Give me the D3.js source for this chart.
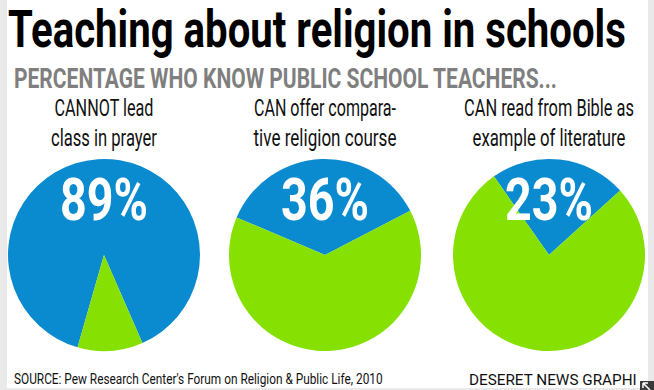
<!DOCTYPE html>
<html>
<head>
<meta charset="utf-8">
<script src="https://cdn.jsdelivr.net/npm/d3@7"></script>
<style>
  html, body { margin: 0; padding: 0; background: #fff; }
  svg { display: block; }
</style>
</head>
<body>
<div id="chart"></div>
<script>
const questions = [
  ['CANNOT lead', 'class in prayer'],
  ['CAN offer compara-', 'tive religion course'],
  ['CAN read from Bible as', 'example of literature']
];
const percents = [89, 36, 23];

// layout
const W = 654, H = 390;
const BLUE = '#0a8bcf', GREEN = '#86e102';
const centersX = [104, 325, 549];
const centerY = 255;
const radius = 96;
const startDeg = [196, -67, -35];         // where the blue slice starts
const labelWidths = [[99, 106], [142, 143], [170, 153]];
const pctWidth = 88;
const condensed = "'Liberation Sans Narrow', 'Roboto', 'Liberation Sans', sans-serif";

const svg = d3.select('#chart').append('svg').attr('width', W).attr('height', H);

svg.append('rect').attr('width', W).attr('height', H).attr('fill', '#fff');
svg.append('rect').attr('x', 0).attr('y', 0).attr('width', 7).attr('height', H).attr('fill', '#e9e9e9');
svg.append('rect').attr('x', 648).attr('y', 0).attr('width', 6).attr('height', H).attr('fill', '#e9e9e9');
svg.append('rect').attr('x', 0).attr('y', 388).attr('width', W).attr('height', 2).attr('fill', '#e9e9e9');

// squeeze a text horizontally to a given width (condensed look)
function fit(sel, w) {
  const x = +sel.attr('x'), y = +sel.attr('y');
  const len = sel.node().getComputedTextLength();
  sel.attr('x', 0).attr('y', 0)
    .attr('transform', `translate(${x},${y}) scale(${w / len},1)`);
  return sel;
}

fit(svg.append('text').attr('x', 8).attr('y', 47)
  .attr('font-family', condensed).attr('font-weight', 700).attr('font-size', 52)
  .attr('fill', '#000').text('Teaching about religion in schools'), 618);

fit(svg.append('text').attr('x', 14).attr('y', 88)
  .attr('font-family', condensed).attr('font-weight', 700).attr('font-size', 27)
  .attr('fill', '#7f7f7f').text('PERCENTAGE WHO KNOW PUBLIC SCHOOL TEACHERS...'), 543);

const arc = d3.arc().innerRadius(0).outerRadius(radius);

percents.forEach((p, i) => {
  const a0 = startDeg[i] * Math.PI / 180;
  const pie = d3.pie().sort(null).startAngle(a0).endAngle(a0 + 2 * Math.PI);
  const g = svg.append('g').attr('transform', `translate(${centersX[i]},${centerY})`);
  g.selectAll('path').data(pie([p, 100 - p])).join('path')
    .attr('d', arc)
    .attr('fill', (d, j) => j === 0 ? BLUE : GREEN);

  fit(g.append('text').attr('x', 0).attr('y', -35)
    .attr('text-anchor', 'middle')
    .attr('font-family', condensed).attr('font-weight', 700).attr('font-size', 59)
    .attr('fill', '#fff').text(p + '%'), pctWidth);

  questions[i].forEach((line, k) => {
    fit(svg.append('text').attr('x', centersX[i]).attr('y', 116 + k * 30)
      .attr('text-anchor', 'middle')
      .attr('font-family', condensed).attr('font-size', 24)
      .attr('fill', '#111').text(line), labelWidths[i][k]);
  });
});

fit(svg.append('text').attr('x', 14).attr('y', 384)
  .attr('font-family', condensed).attr('font-size', 15)
  .attr('fill', '#111').text("SOURCE: Pew Research Center's Forum on Religion & Public Life, 2010"), 369);

fit(svg.append('text').attr('x', 469).attr('y', 385)
  .attr('font-family', condensed).attr('font-size', 15)
  .attr('fill', '#111').text('DESERET NEWS GRAPHI'), 168);

// little corner icon
svg.append('rect').attr('x', 640).attr('y', 381).attr('width', 14).attr('height', 9).attr('fill', '#3a3a3a');
svg.append('path').attr('d', 'M643,383 L648,383 M643,383 L643,388 M643,383 L650,390')
  .attr('stroke', '#fff').attr('stroke-width', 1.5).attr('fill', 'none');
</script>
</body>
</html>
